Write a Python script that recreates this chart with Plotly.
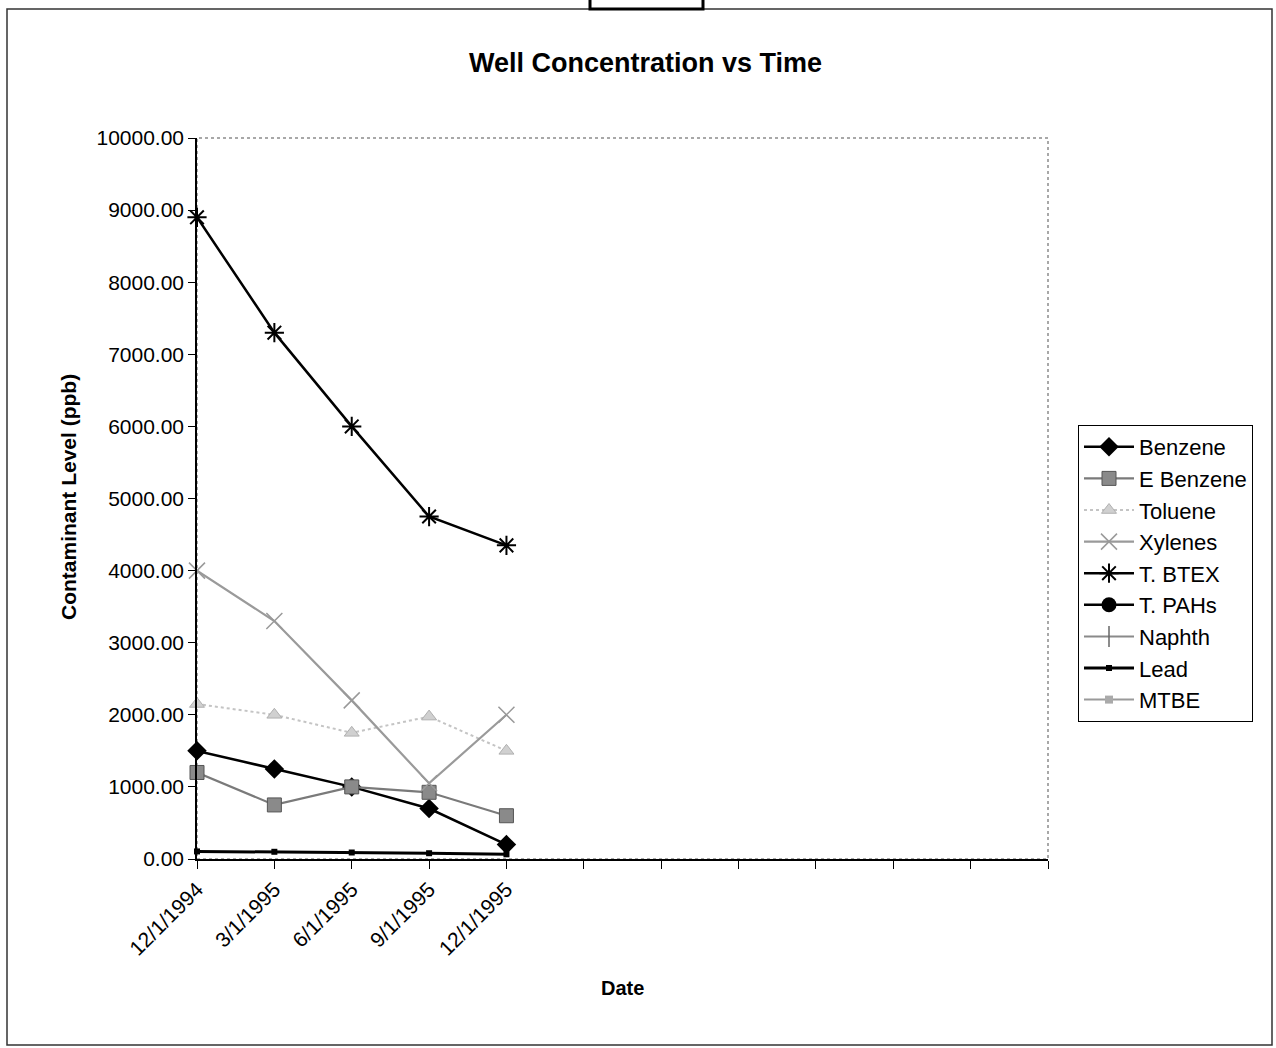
import plotly.graph_objects as go

# ---- data ----
categories = ["12/1/1994", "3/1/1995", "6/1/1995", "9/1/1995", "12/1/1995",
              "", "", "", "", "", "", ""]
benzene = [1500, 1250, 1000, 700, 200]
e_benzene = [1200, 750, 1000, 925, 600]
toluene = [2150, 2000, 1750, 1975, 1500]
xylenes = [4000, 3300, 2200, 1050, 2000]
t_btex = [8900, 7300, 6000, 4750, 4350]
t_pahs = [None, None, None, None, None]
naphth = [None, None, None, None, None]
lead = [105, 100, 90, 80, 65]
mtbe = [None, None, None, None, None]

y_ticks = [0, 1000, 2000, 3000, 4000, 5000, 6000, 7000, 8000, 9000, 10000]

# ---- layout geometry (pixels) ----
W, H = 1276, 1048
L, R, T, B = 197, 1048, 138, 859


def px(x):
    return (x - L) / (R - L)


def py(y):
    return (B - y) / (B - T)


xs = list(range(len(categories)))

series = [
    ("Benzene", benzene, dict(color="black", width=2.5, dash="solid"),
     dict(symbol="diamond", size=15, color="black")),
    ("E Benzene", e_benzene, dict(color="#7a7a7a", width=2.2, dash="solid"),
     dict(symbol="square", size=14, color="#8a8a8a", line=dict(color="#555555", width=1))),
    ("Toluene", toluene, dict(color="#c4c4c4", width=2, dash="dot"),
     dict(symbol="triangle-up", size=13, color="#d0d0d0", line=dict(color="#b0b0b0", width=1))),
    ("Xylenes", xylenes, dict(color="#9a9a9a", width=2.2, dash="solid"),
     dict(symbol="x-thin-open", size=16, color="#999999", line=dict(color="#999999", width=1.5))),
    ("T. BTEX", t_btex, dict(color="black", width=2.5, dash="solid"),
     dict(symbol="asterisk-open", size=16, color="black", line=dict(color="black", width=2))),
    ("T. PAHs", t_pahs, dict(color="black", width=2.5, dash="solid"),
     dict(symbol="circle", size=15, color="black")),
    ("Naphth", naphth, dict(color="#8a8a8a", width=2, dash="solid"),
     dict(symbol="line-ns-open", size=15, color="#666666", line=dict(color="#666666", width=1.5))),
    ("Lead", lead, dict(color="black", width=3, dash="solid"),
     dict(symbol="square", size=6, color="black")),
    ("MTBE", mtbe, dict(color="#9a9a9a", width=2, dash="solid"),
     dict(symbol="square", size=8, color="#aaaaaa")),
]

fig = go.Figure()
for name, vals, line, marker in series:
    fig.add_trace(go.Scatter(
        x=xs[:len(vals)], y=vals, name=name, mode="lines+markers",
        line=line, marker=marker, cliponaxis=False, connectgaps=False,
    ))

font_family = "Liberation Sans, Arial, sans-serif"

fig.update_layout(
    width=W, height=H,
    margin=dict(l=L, r=W - R, t=T, b=H - B, autoexpand=False),
    paper_bgcolor="white", plot_bgcolor="white",
    font=dict(family=font_family, color="black", size=20),
    showlegend=True,
    legend=dict(
        x=px(1078), y=py(425), xanchor="left", yanchor="top",
        bordercolor="black", borderwidth=1, bgcolor="white",
        font=dict(size=22, family=font_family, color="black"),
        tracegroupgap=0, itemwidth=50,
    ),
    xaxis=dict(
        range=[0, len(categories) - 1], tickmode="array", tickvals=xs,
        ticktext=categories, tickangle=-45, showgrid=False, zeroline=False,
        showline=True, linecolor="black", linewidth=1.5,
        ticks="outside", ticklen=8, tickcolor="black", tickwidth=1,
        tickfont=dict(size=21, family=font_family),
    ),
    yaxis=dict(
        range=[0, 10000], tickmode="array", tickvals=y_ticks,
        tickformat=".2f", showgrid=False, zeroline=False,
        showline=True, linecolor="black", linewidth=1.5,
        ticks="outside", ticklen=7, tickcolor="black", tickwidth=1,
        tickfont=dict(size=21, family=font_family),
    ),
    shapes=[
        # plot area border (dotted gray)
        dict(type="rect", xref="paper", yref="paper", x0=0, x1=1, y0=0, y1=1,
             line=dict(color="#8c8c8c", width=1.5, dash="dot"), layer="below"),
        # outer chart frame
        dict(type="rect", xref="paper", yref="paper",
             x0=px(7), x1=px(1272), y0=py(1045), y1=py(9),
             line=dict(color="#333333", width=1.5), layer="below"),
        # small tab at top
        dict(type="rect", xref="paper", yref="paper",
             x0=px(590), x1=px(703), y0=py(9), y1=py(-3),
             line=dict(color="black", width=3), fillcolor="white", layer="below"),
    ],
    annotations=[
        dict(text="<b>Well Concentration vs Time</b>", xref="paper", yref="paper",
             x=px(645), y=py(63), xanchor="center", yanchor="middle", showarrow=False,
             font=dict(size=27, family=font_family)),
        dict(text="<b>Contaminant Level (ppb)</b>", xref="paper", yref="paper",
             x=px(68), y=py(497), xanchor="center", yanchor="middle", showarrow=False,
             textangle=-90, font=dict(size=21, family=font_family)),
        dict(text="<b>Date</b>", xref="paper", yref="paper",
             x=px(622), y=py(988), xanchor="center", yanchor="middle", showarrow=False,
             font=dict(size=20, family=font_family)),
    ],
)

fig.write_html("out.html")
